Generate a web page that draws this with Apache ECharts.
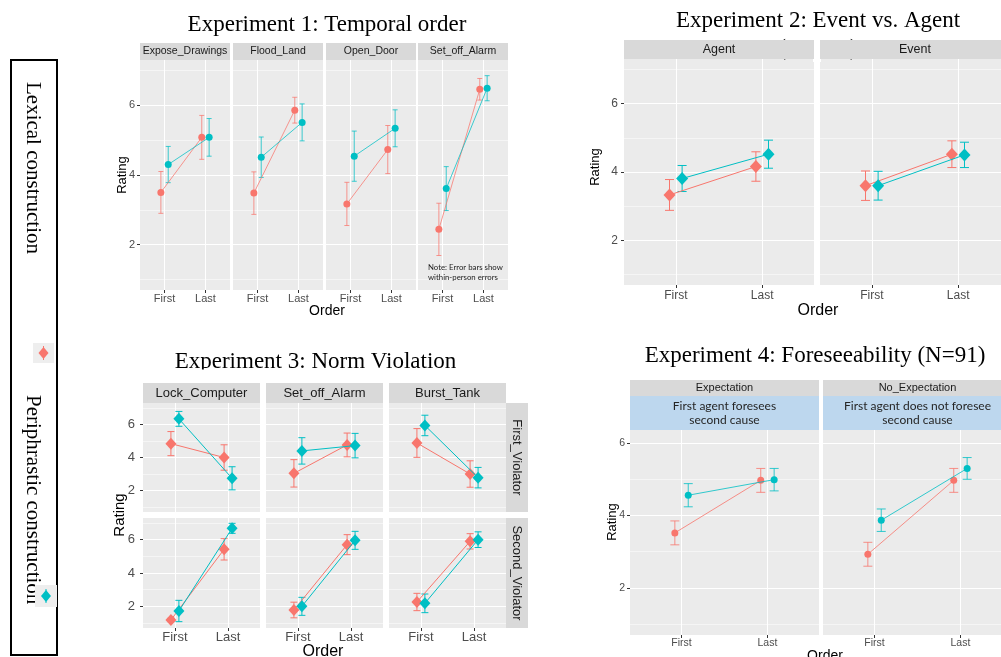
<!DOCTYPE html>
<html><head><meta charset="utf-8">
<script src="https://cdn.jsdelivr.net/npm/echarts@6/dist/echarts.min.js"></script>
<style>html,body{margin:0;padding:0;background:#fff;}#c{width:1001px;height:657px;}</style>
</head><body><div id="c"></div>
<script>
// ---------------- DATA ----------------
const orderLabels = ['First', 'Last'];
const groupNames = ['Lexical construction', 'Periphrastic construction'];
const yTicks = [2, 4, 6];
const yMinor = [1, 3, 5, 7];

// Experiment 1: Temporal order
const exp1Title = 'Experiment 1: Temporal order';
const exp1Panels = ['Expose_Drawings', 'Flood_Land', 'Open_Door', 'Set_off_Alarm'];
const exp1Lexical    = [[3.50, 5.08], [3.48, 5.86], [3.17, 4.73], [2.44, 6.46]];
const exp1LexicalErr = [[0.60, 0.63], [0.61, 0.37], [0.62, 0.69], [0.75, 0.31]];
const exp1Periph     = [[4.30, 5.08], [4.51, 5.51], [4.54, 5.34], [3.61, 6.49]];
const exp1PeriphErr  = [[0.52, 0.54], [0.58, 0.53], [0.72, 0.53], [0.63, 0.36]];
const exp1Note = ['Note: Error bars show', 'within-person errors'];

// Experiment 2: Event vs. Agent
const exp2Title = 'Experiment 2: Event vs. Agent';
const exp2Subtitle = '(N=175)';
const exp2Panels = ['Agent', 'Event'];
const exp2Lexical    = [[3.33, 4.16], [3.60, 4.52]];
const exp2LexicalErr = [[0.45, 0.43], [0.43, 0.39]];
const exp2Periph     = [[3.81, 4.52], [3.60, 4.50]];
const exp2PeriphErr  = [[0.38, 0.41], [0.42, 0.37]];

// Experiment 3: Norm Violation (rows x columns)
const exp3Title = 'Experiment 3: Norm Violation';
const exp3Panels = ['Lock_Computer', 'Set_off_Alarm', 'Burst_Tank'];
const exp3Rows = ['First_Violator', 'Second_Violator'];
const exp3Lexical    = [[[4.84, 4.00], [3.04, 4.76], [4.88, 3.00]], [[1.18, 5.42], [1.78, 5.70], [2.26, 5.90]]];
const exp3LexicalErr = [[[0.73, 0.77], [0.83, 0.72], [0.87, 0.80]], [[0.10, 0.64], [0.47, 0.60], [0.52, 0.46]]];
const exp3Periph     = [[[6.34, 2.74], [4.40, 4.72], [5.94, 2.78]], [[1.72, 6.68], [2.00, 5.96], [2.18, 6.00]]];
const exp3PeriphErr  = [[[0.45, 0.70], [0.80, 0.74], [0.62, 0.62]], [[0.64, 0.30], [0.54, 0.54], [0.56, 0.47]]];

// Experiment 4: Foreseeability
const exp4Title = 'Experiment 4: Foreseeability (N=91)';
const exp4Panels = ['Expectation', 'No_Expectation'];
const exp4Notes = ['First agent foresees\nsecond cause', 'First agent does not foresee\nsecond cause'];
const exp4Lexical    = [[3.52, 4.97], [2.93, 4.97]];
const exp4LexicalErr = [[0.33, 0.33], [0.33, 0.33]];
const exp4Periph     = [[4.56, 4.99], [3.87, 5.30]];
const exp4PeriphErr  = [[0.32, 0.31], [0.31, 0.30]];

// ---------------- BUILD ----------------
const RED = '#F8766D', TEAL = '#00BFC4';
const SANS = '"Liberation Sans"', SERIF = '"Liberation Serif"';
const grids = [], xAxes = [], yAxes = [], series = [], graphics = [];

function addPanel(p) {
  const gi = grids.length;
  grids.push({left: p.left, top: p.top, width: p.width, height: p.height, show: true,
    backgroundColor: '#EBEBEB', borderWidth: 0, containLabel: false, outerBoundsMode: 'none'});
  xAxes.push({type: 'value', gridIndex: gi, min: 0.4, max: 2.6, position: 'bottom',
    axisLine: {show: false},
    axisTick: {show: p.showX, customValues: [1, 2], length: 3, lineStyle: {color: '#333333', width: 1}},
    axisLabel: {show: p.showX, customValues: [1, 2], formatter: v => orderLabels[Math.round(v) - 1],
      color: '#4D4D4D', fontSize: p.xFont, fontFamily: 'Liberation Sans', margin: p.xMargin},
    splitLine: {show: true, lineStyle: {color: '#FFFFFF', width: 1}}});
  yAxes.push({type: 'value', gridIndex: gi, min: 0.7, max: 7.3, position: 'left',
    axisLine: {show: false},
    axisTick: {show: p.showY, customValues: yTicks, length: 3, lineStyle: {color: '#333333', width: 1}},
    axisLabel: {show: p.showY, customValues: yTicks, color: '#4D4D4D', fontSize: p.yFont,
      fontFamily: 'Liberation Sans', margin: p.yMargin},
    splitLine: {show: true, lineStyle: {color: '#FFFFFF', width: 1}}});
  yAxes.push({type: 'value', gridIndex: gi, min: 0.7, max: 7.3, position: 'left',
    axisLine: {show: false}, axisTick: {show: false, customValues: yMinor}, axisLabel: {show: false},
    splitLine: {show: true, lineStyle: {color: '#FFFFFF', width: 0.5}}});
  const groups = [[p.lex, p.lexErr, RED, -p.dodge], [p.per, p.perErr, TEAL, p.dodge]];
  groups.forEach(([vals, errs, col, off], k) => {
    const hw = p.capW / 2;
    series.push({type: 'custom', xAxisIndex: gi, yAxisIndex: 2 * gi, z: 2, silent: true,
      data: vals.map((v, i) => [i + 1 + off, v - errs[i], v + errs[i]]),
      renderItem: (params, api) => {
        const x = api.value(0);
        const lo = api.coord([x, api.value(1)]);
        const hi = api.coord([x, api.value(2)]);
        const st = {stroke: col, lineWidth: 1, opacity: p.lineOpacity};
        return {type: 'group', children: [
          {type: 'line', shape: {x1: lo[0], y1: lo[1], x2: hi[0], y2: hi[1]}, style: st},
          {type: 'line', shape: {x1: lo[0] - hw, y1: lo[1], x2: lo[0] + hw, y2: lo[1]}, style: st},
          {type: 'line', shape: {x1: hi[0] - hw, y1: hi[1], x2: hi[0] + hw, y2: hi[1]}, style: st}
        ]};
      }});
    series.push({type: 'line', xAxisIndex: gi, yAxisIndex: 2 * gi, z: 3 + k, silent: true,
      data: vals.map((v, i) => [i + 1 + off, v]),
      symbol: p.symbol, symbolSize: p.symbolSize, showSymbol: true,
      itemStyle: {color: col, borderWidth: 0, opacity: 1},
      lineStyle: {color: col, width: 1, opacity: p.lineOpacity},
      emphasis: {disabled: true}});
  });
}

function txt(x, y, text, font, o) {
  o = o || {};
  graphics.push({type: 'text', x: x, y: y, rotation: o.rot || 0, z: o.z == null ? 20 : o.z,
    style: {text: text, font: font, fill: o.fill || '#000000',
      align: o.align || 'center', verticalAlign: o.va || 'middle',
      textAlign: o.align || 'center', textVerticalAlign: o.va || 'middle',
      lineHeight: o.lh}});
}
function rect(x, y, w, h, fill, z, stroke, lw) {
  graphics.push({type: 'rect', z: z, shape: {x: x, y: y, width: w, height: h},
    style: {fill: fill, stroke: stroke || null, lineWidth: lw || 0}});
}
function stripTop(x, y, w, h, label, font) {
  rect(x, y, w, h, '#D9D9D9', 10);
  txt(x + w / 2, y + h / 2, label, font, {fill: '#1A1A1A', z: 11});
}
function stripRight(x, y, w, h, label, font) {
  rect(x, y, w, h, '#D9D9D9', 10);
  txt(x + w / 2, y + h / 2, label, font, {fill: '#1A1A1A', z: 11, rot: -Math.PI / 2});
}

// Experiment 1
const E1 = {lefts: [140, 233, 326, 418], top: 60, w: 90, h: 230};
exp1Panels.forEach((name, i) => {
  addPanel({left: E1.lefts[i], top: E1.top, width: E1.w, height: E1.h,
    lex: exp1Lexical[i], lexErr: exp1LexicalErr[i], per: exp1Periph[i], perErr: exp1PeriphErr[i],
    dodge: 0.09, symbol: 'circle', symbolSize: 7, capW: 5, lineOpacity: 0.75,
    showX: true, showY: i === 0, xFont: 11, yFont: 11, xMargin: 3, yMargin: 5});
  stripTop(E1.lefts[i], 43, E1.w, 17, name, '10.5px ' + SANS);
});
txt(327, 25, exp1Title, '23px ' + SERIF);
txt(122, 175, 'Rating', '13px ' + SANS, {rot: Math.PI / 2});
txt(327, 311, 'Order', '14px ' + SANS);
txt(428, 267, exp1Note[0], '7.8px Lato', {align: 'left', fill: '#222'});
txt(428, 277, exp1Note[1], '7.8px Lato', {align: 'left', fill: '#222'});

// Experiment 2
txt(818, 49, exp2Subtitle, '23px ' + SERIF, {z: 1});
rect(813, 38, 8, 24, '#FFFFFF', 2);
const E2 = {lefts: [624, 820], top: 59, w: 190, h: 226};
exp2Panels.forEach((name, i) => {
  addPanel({left: E2.lefts[i], top: E2.top, width: E2.w, height: E2.h,
    lex: exp2Lexical[i], lexErr: exp2LexicalErr[i], per: exp2Periph[i], perErr: exp2PeriphErr[i],
    dodge: 0.073, symbol: 'diamond', symbolSize: [12, 13], capW: 9, lineOpacity: 1,
    showX: true, showY: i === 0, xFont: 12, yFont: 12, xMargin: 5, yMargin: 6});
  stripTop(E2.lefts[i], 40, E2.w, 19, name, '12.5px ' + SANS);
});
txt(818, 20.5, exp2Title, '23px ' + SERIF);
txt(595, 167, 'Rating', '13px ' + SANS, {rot: Math.PI / 2});
txt(818, 311, 'Order', '16px ' + SANS);

// Experiment 3
const E3 = {lefts: [143, 266, 389], w: 117, tops: [403, 518], hs: [109, 110]};
exp3Rows.forEach((rowName, r) => {
  exp3Panels.forEach((name, c) => {
    addPanel({left: E3.lefts[c], top: E3.tops[r], width: E3.w, height: E3.hs[r],
      lex: exp3Lexical[r][c], lexErr: exp3LexicalErr[r][c], per: exp3Periph[r][c], perErr: exp3PeriphErr[r][c],
      dodge: 0.075, symbol: 'diamond', symbolSize: [11, 12], capW: 7, lineOpacity: 1,
      showX: r === 1, showY: c === 0, xFont: 13, yFont: 13, xMargin: 3, yMargin: 8});
    if (r === 0) stripTop(E3.lefts[c], 383, E3.w, 20, name, '13px ' + SANS);
  });
  stripRight(506, E3.tops[r], 22, E3.hs[r], rowName, '13px ' + SANS);
});
txt(315.5, 362, exp3Title, '23px ' + SERIF);
rect(150, 369.5, 330, 12, '#FFFFFF', 21);
txt(120, 515, 'Rating', '15px ' + SANS, {rot: Math.PI / 2});
txt(323, 652, 'Order', '16px ' + SANS);

// Experiment 4
const E4 = {lefts: [630, 823], top: 396, w: 189, h: 239};
exp4Panels.forEach((name, i) => {
  addPanel({left: E4.lefts[i], top: E4.top, width: E4.w, height: E4.h,
    lex: exp4Lexical[i], lexErr: exp4LexicalErr[i], per: exp4Periph[i], perErr: exp4PeriphErr[i],
    dodge: 0.078, symbol: 'circle', symbolSize: 7, capW: 9, lineOpacity: 0.8,
    showX: true, showY: i === 0, xFont: 10.5, yFont: 10.5, xMargin: 3, yMargin: 5});
  stripTop(E4.lefts[i], 380, E4.w, 16, name, '11px ' + SANS);
  rect(E4.lefts[i], 396, E4.w, 34, '#BDD7EE', 10);
  txt(E4.lefts[i] + E4.w / 2, 413.5, exp4Notes[i], '12px Lato', {fill: '#262626', z: 11, lh: 14});
});
txt(815, 356, exp4Title, '23px ' + SERIF);
txt(612, 522, 'Rating', '13px ' + SANS, {rot: Math.PI / 2});
txt(825, 656, 'Order', '14px ' + SANS);

// Left legend box
rect(11, 60, 46, 595, '#FFFFFF', 5, '#000000', 2);
txt(33, 168, groupNames[0], '21px ' + SERIF, {rot: -Math.PI / 2});
txt(33, 395, groupNames[1], '21px ' + SERIF, {rot: -Math.PI / 2, align: 'left'});
function legendKey(cx, cy, col, boxX, boxY, boxW, boxH) {
  rect(boxX, boxY, boxW, boxH, '#EEEEEE', 30);
  graphics.push({type: 'line', z: 31, shape: {x1: cx, y1: cy - 7, x2: cx, y2: cy + 7}, style: {stroke: col, lineWidth: 1}});
  graphics.push({type: 'polygon', z: 32, shape: {points: [[cx, cy - 6], [cx + 5, cy], [cx, cy + 6], [cx - 5, cy]]}, style: {fill: col}});
}
legendKey(43.5, 353, RED, 33, 343, 21, 20);
legendKey(46, 596, TEAL, 35, 585, 22, 22);

const chart = echarts.init(document.getElementById('c'), null, {renderer: 'canvas'});
chart.setOption({
  animation: false,
  backgroundColor: '#FFFFFF',
  grid: grids,
  xAxis: xAxes,
  yAxis: yAxes,
  series: series,
  graphic: {elements: graphics}
});
</script></body></html>
